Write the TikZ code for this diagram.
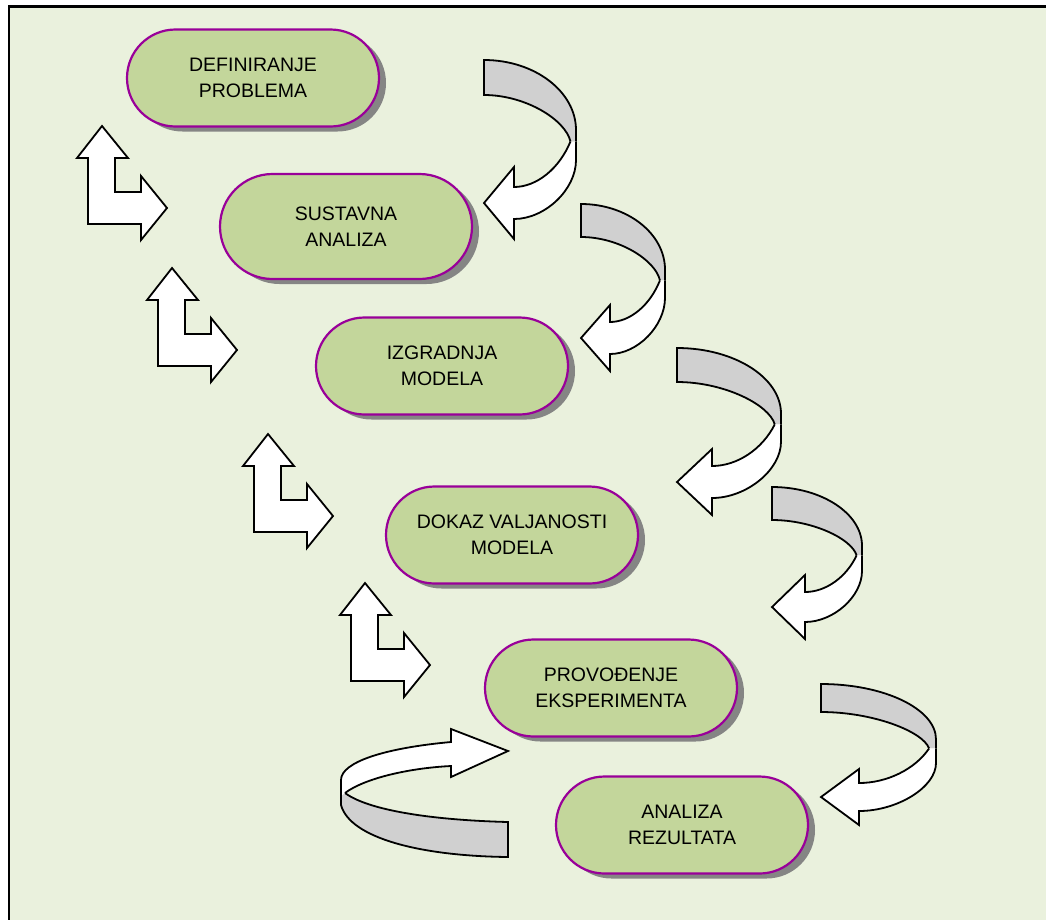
\documentclass[tikz,border=0pt]{standalone}
\usepackage{fontspec}
\setmainfont{Liberation Sans}
\usetikzlibrary{shapes.misc,shadows}
\definecolor{bgc}{HTML}{EAF1DD}
\definecolor{nodefill}{HTML}{C3D69B}
\definecolor{nodeedge}{HTML}{990099}
\definecolor{backgray}{HTML}{D0D0D0}
\definecolor{shadowgray}{HTML}{808080}
\tikzset{
  stepnode/.style={rounded rectangle, draw=nodeedge, line width=2.2pt, fill=nodefill,
    minimum width=252pt, minimum height=97pt, align=center, inner sep=0pt,
    font=\fontsize{19.5}{26}\selectfont,
    drop shadow={shadow xshift=7pt, shadow yshift=-5pt, fill=shadowgray, opacity=0.95}},
  arrowline/.style={draw=black, line width=1.8pt, line join=miter},
}
\newcommand\curvarrow[8]{%
  \pgfmathsetmacro\cax{#1}%
  \pgfmathsetmacro\cay{#2}%
  \pgfmathsetmacro\car{#1+#3}%
  \pgfmathsetmacro\caj{#2+0.57*#4}%
  \pgfmathsetmacro\cava{\caj-0.08*#4}%
  \pgfmathsetmacro\cavb{\caj+0.13*#4}%
  \pgfmathsetmacro\caxj{\car-0.06*#3}%
  \pgfmathsetmacro\cat{#2+#4}%
  \pgfmathsetmacro\cahx{#1+#6}%
  \pgfmathsetmacro\cait{#2+#5}%
  \pgfmathsetmacro\cga{#1+0.55*#3}%
  \pgfmathsetmacro\cgb{\cava-0.55*(\cava-#2)}%
  \pgfmathsetmacro\cgc{#1+0.45*#3}%
  \pgfmathsetmacro\cgd{\caxj-0.055*#3}%
  \pgfmathsetmacro\cge{\caj-0.47*(\caj-\cait)}%
  \fill[backgray] (\cax,\cay) .. controls (\cga,\cay) and (\car,\cgb) .. (\car,\cava) -- (\car,\caj) -- (\caxj,\caj) .. controls (\cgd,\cge) and (\cgc,\cait) .. (\cax,\cait) -- cycle;
  \draw[arrowline] (\caxj,\caj) .. controls (\cgd,\cge) and (\cgc,\cait) .. (\cax,\cait) -- (\cax,\cay) .. controls (\cga,\cay) and (\car,\cgb) .. (\car,\cava) -- (\car,\caj);
  \pgfmathsetmacro\cwa{\cat-#8}%
  \pgfmathsetmacro\cwb{\cat+#8}%
  \pgfmathsetmacro\cwc{\cat-#7}%
  \pgfmathsetmacro\cwd{\cat+#7}%
  \pgfmathsetmacro\cwe{\caxj-0.2*(\caxj-\cahx)}%
  \pgfmathsetmacro\cwf{\caj+0.6*(\cwa-\caj)}%
  \pgfmathsetmacro\cwg{\cahx+0.4*(\caxj-\cahx)}%
  \pgfmathsetmacro\cwh{\cavb+0.5*(\cwb-\cavb)}%
  \pgfmathsetmacro\cwi{\cahx+0.5*(\car-\cahx)}%
  \fill[white] (\caxj,\caj) .. controls (\cwe,\cwf) and (\cwg,\cwa) .. (\cahx,\cwa) -- (\cahx,\cwc) -- (\cax,\cat) -- (\cahx,\cwd) -- (\cahx,\cwb) .. controls (\cwi,\cwb) and (\car,\cwh) .. (\car,\cavb) -- (\car,\caj) -- cycle;
  \draw[arrowline] (\caxj,\caj) .. controls (\cwe,\cwf) and (\cwg,\cwa) .. (\cahx,\cwa) -- (\cahx,\cwc) -- (\cax,\cat) -- (\cahx,\cwd) -- (\cahx,\cwb) .. controls (\cwi,\cwb) and (\car,\cwh) .. (\car,\cavb) -- (\car,\caj);
}
\newcommand\bentarrow[2]{%
  \draw[arrowline, fill=white, shift={(#1,#2)}] (0,0) -- (26,32) -- (13,32) -- (13,66) -- (39,66) -- (39,50) -- (65,82) -- (39,114) -- (39,98) -- (-14,98) -- (-14,32) -- (-25,32) -- cycle;
}
\begin{document}
\begin{tikzpicture}[x=1pt,y=-1pt]
\useasboundingbox (0,0) rectangle (1046,919);
\fill[bgc] (9,7) rectangle (1050,925);
\draw[black, line width=2.2pt] (9,930) -- (9,6.5) -- (1055,6.5);

% bent arrows
\bentarrow{102}{126}
\bentarrow{172}{268}
\bentarrow{268}{434}
\bentarrow{365}{583}

% curved arrows
\curvarrow{484}{60}{92}{143}{35}{30}{36}{16}
\curvarrow{581}{204}{84}{134}{33}{29}{33}{16}
\curvarrow{677}{348}{104}{134}{34}{35}{33}{16}
\curvarrow{772}{487}{90}{120}{33}{33}{32}{15}
\curvarrow{821}{684}{115}{113}{28}{38}{28}{14}

% loop arrow at bottom left
\fill[backgray] (341,786) -- (341,805) .. controls (350,838) and (420,856) .. (508,857) -- (508,822) .. controls (430,820) and (368,810) .. (345,793) -- cycle;
\draw[arrowline] (345,793) .. controls (368,810) and (430,820) .. (508,822) -- (508,857) .. controls (420,856) and (350,838) .. (341,805) -- (341,795);
\fill[white] (451,742) .. controls (385,748) and (341,762) .. (341,780) -- (341,796) -- (345,793) .. controls (365,778) and (410,768) .. (451,766) -- (451,777) -- (508,751) -- (451,729) -- cycle;
\draw[arrowline] (345,793) .. controls (365,778) and (410,768) .. (451,766) -- (451,777) -- (508,751) -- (451,729) -- (451,742) .. controls (385,748) and (341,762) .. (341,780) -- (341,796);

% nodes
\node[stepnode] (n1) at (253,78) {DEFINIRANJE\\PROBLEMA};
\node[stepnode, minimum height=105pt] (n2) at (346,226.5) {SUSTAVNA\\ANALIZA};
\node[stepnode] (n3) at (442,366) {IZGRADNJA\\MODELA};
\node[stepnode] (n4) at (512,535) {DOKAZ VALJANOSTI\\MODELA};
\node[stepnode] (n5) at (611,688) {PROVOĐENJE\\EKSPERIMENTA};
\node[stepnode] (n6) at (682,825) {ANALIZA\\REZULTATA};
\end{tikzpicture}
\end{document}
